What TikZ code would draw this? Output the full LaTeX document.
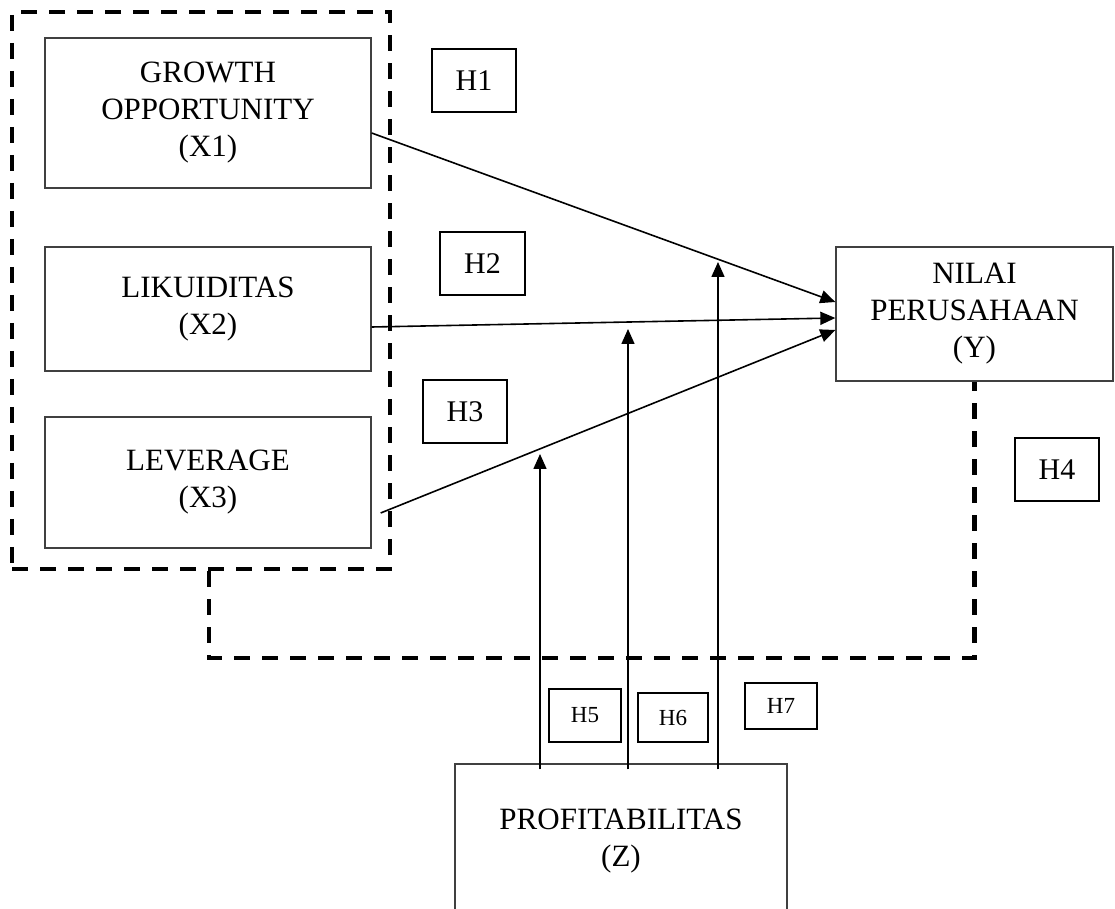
\documentclass[tikz,border=0pt]{standalone}
\usepackage{fontspec}
\setmainfont{Liberation Serif}
\usetikzlibrary{arrows.meta,calc}

\tikzset{
	varbox/.style={draw=black!75,line width=0.65pt,align=center,inner sep=0pt,font=\fontsize{15.5pt}{18.5pt}\selectfont},
	hypbox/.style={draw,line width=1.1pt,inner sep=0pt,minimum width=42pt,minimum height=31.5pt,font=\fontsize{15pt}{18pt}\selectfont},
	hypsmall/.style={draw,line width=1pt,inner sep=0pt,font=\fontsize{11.5pt}{14pt}\selectfont},
	groupline/.style={line width=2.2pt,dash pattern=on 8pt off 6pt},
	arr/.style={line width=0.8pt,-{Triangle[length=7.5pt,width=6.5pt]}}
}

\begin{document}
\begin{tikzpicture}[x=0.5pt,y=-0.5pt]
	\useasboundingbox (0,0) rectangle (1115,909);
	% variables
	\node[varbox,minimum width=163pt,minimum height=75pt] (growth) at (208,113) {GROWTH\\OPPORTUNITY\\(X1)};
	\node[varbox,minimum width=163pt,minimum height=62pt] (likuid) at (208,309) {LIKUIDITAS\\(X2)};
	\node[varbox,minimum width=163pt,minimum height=65.5pt] (lever) at (208,482.5) {LEVERAGE\\(X3)};
	\node[varbox,minimum width=138.5pt,minimum height=67pt] (nilai) at (974.5,314) {NILAI\\PERUSAHAAN\\(Y)};
	\node[varbox,minimum width=166pt,minimum height=77pt] (profit) at (621,841) {PROFITABILITAS\\(Z)};
	% dashed group and link to Y
	\node[groupline,draw,minimum width=189pt,minimum height=278.5pt,inner sep=0pt] (grp) at (201,290.5) {};
	\draw[groupline] ($(grp.south)+(8,0)$) -- ++(0,87) -| (nilai.south);
	% hypotheses
	\node[hypbox] (h1) at (474,80.5) {H1};
	\node[hypbox,minimum width=42.5pt] (h2) at (482.5,263.5) {H2};
	\node[hypbox] (h3) at (465,411.5) {H3};
	\node[hypbox] (h4) at (1057,469.5) {H4};
	\node[hypsmall,minimum width=36pt,minimum height=26.5pt] (h5) at (585,715.5) {H5};
	\node[hypsmall,minimum width=35pt,minimum height=24.5pt] (h6) at (673,717.5) {H6};
	\node[hypsmall,minimum width=36pt,minimum height=23pt] (h7) at (781,706) {H7};
	% direct effects
	\draw[arr] ($(growth.east)+(0,20)$) -- ($(nilai.west)+(0,-12)$);
	\draw[arr] ($(likuid.east)+(0,18)$) -- ($(nilai.west)+(0,4)$);
	\draw[arr] ($(lever.east)+(9,30.5)$) -- ($(nilai.west)+(0,16)$);
	% moderation
	\coordinate (t5) at (540,454);
	\coordinate (t6) at (628,329);
	\coordinate (t7) at (718,262);
	\foreach \t in {t5,t6,t7}
		\draw[arr] ([yshift=-3pt]profit.north -| \t) -- (\t);
\end{tikzpicture}
\end{document}
